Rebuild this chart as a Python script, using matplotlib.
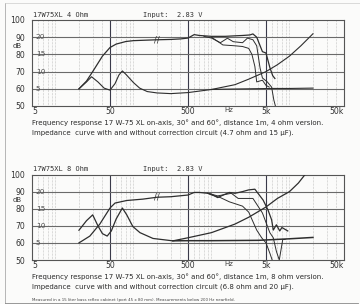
import matplotlib
matplotlib.use("Agg")
import matplotlib.pyplot as plt

# ---------------- 4 ohm version ----------------
f_on4 = [20, 25, 30, 40, 50, 60, 80, 100, 150, 200, 300, 400, 500, 600, 700,
         1000, 1500, 2000, 2500, 3100, 3400, 3800, 4500, 5000, 5600, 6100, 6500]
spl_on4 = [60, 64.5, 70, 79, 84, 86, 87.5, 88, 88.3, 88.5, 88.7, 89, 89.5, 91.5, 91,
           90.5, 90.5, 90.8, 91, 91.3, 91.9, 90, 81.6, 80.8, 72.4, 67.6, 66]
f_30_4 = [800, 1000, 1300, 1600, 1900, 2500, 2900, 3400, 3800, 4200, 4500, 5200, 5900, 6300, 6600]
spl_30_4 = [90.5, 89.5, 86.8, 89.4, 87.4, 86.8, 89.5, 88.5, 85, 72, 66.3, 64, 61, 53.5, 50]
f_60_4 = [1000, 1400, 2000, 2500, 3000, 3300, 3600, 3800, 4500, 5000, 5500]
spl_60_4 = [90, 85.5, 85, 84.6, 83.5, 80, 73, 64, 65, 62, 61]

f_z4 = [20, 25, 29, 35, 42, 50, 58, 65, 72, 80, 100, 120, 150, 200, 300, 500,
        1000, 2000, 3000, 5000, 7000, 10000, 14000, 20000]
z_4 = [5, 7, 8.5, 7, 5.2, 4.6, 6.5, 9, 10.2, 9.2, 6.8, 5.2, 4.2, 3.8, 3.6, 3.9,
       4.8, 6.2, 7.8, 10, 12, 14.5, 17.5, 21]
f_zc4 = [1000, 1500, 3000, 6000, 10000, 20000]
zc_4 = [4.8, 4.9, 5.0, 5.1, 5.1, 5.2]

# ---------------- 8 ohm version ----------------
f_on8 = [20, 27.6, 37, 50, 58, 82, 132, 200, 300, 500, 600, 700, 900, 1000, 1200,
         1500, 1700, 2000, 2500, 3000, 3600, 4600, 5300, 5900, 6200, 6800, 7500, 8000, 9500]
spl_on8 = [60, 64, 71, 80.4, 83.3, 84.8, 85.6, 86.7, 87, 88, 89.5, 89.5, 89, 88.5, 86.5,
           88.5, 89.5, 89, 90, 91, 91.4, 85, 79.3, 73.5, 67.5, 70.6, 67, 69, 67]
f_30_8 = [900, 1200, 1800, 2200, 3400, 4500, 5600, 6200, 6800, 7400, 8200, 8800]
spl_30_8 = [89, 87.5, 89, 86, 86, 77.5, 66, 63, 55, 50, 62, 62]
f_60_8 = [900, 1000, 1300, 1700, 2500, 3000, 3800, 4400, 5000, 5600, 6000]
spl_60_8 = [89, 88, 86.5, 84, 81.5, 78, 67.5, 63, 60, 54, 50]

f_z8 = [20, 25, 30, 35, 40, 46, 52, 60, 72, 82, 98, 121, 178, 320, 500,
        1000, 2000, 3000, 5000, 7000, 10000, 13000, 16500]
z_8 = [8.7, 11.5, 13.2, 10, 7.7, 7, 8.5, 12, 15.2, 13.2, 9.8, 8, 6.3, 5.6, 6.5,
       8, 10.5, 12.5, 15.5, 18, 20, 22.5, 25.5]
f_zc8 = [320, 500, 1000, 2000, 4000, 10000, 20000]
zc_8 = [5.6, 5.65, 5.65, 5.7, 5.75, 6.2, 6.6]

titles = ["17W75XL 4 Ohm", "17W75XL 8 Ohm"]
captions = [
    ["Frequency response 17 W-75 XL on-axis, 30\u00b0 and 60\u00b0, distance 1m, 4 ohm version.",
     "Impedance  curve with and without correction circuit (4.7 ohm and 15 \u00b5F)."],
    ["Frequency response 17 W-75 XL on-axis, 30\u00b0 and 60\u00b0, distance 1m, 8 ohm version.",
     "Impedance  curve with and without correction circuit (6.8 ohm and 20 \u00b5F)."],
]
footer = ("Measured in a 15 liter bass reflex cabinet (port 45 x 80 mm). "
          "Measurements below 200 Hz nearfield.")

W, H = 360, 304
fig = plt.figure(figsize=(W / 100, H / 100), dpi=100, facecolor="#fbfbfa")


def px_box(left, top, right, bottom):
    return [left / W, 1 - bottom / H, (right - left) / W, (bottom - top) / H]


def draw_chart(ax, title, spl_sets, z_sets):
    ax.set_facecolor("#fbfbfa")
    ax.set_xscale("log")
    ax.set_xlim(5, 50000)
    ax.set_ylim(50, 100)

    # dotted minor grid
    for dec in [1, 10, 100, 1000, 10000]:
        for k in range(1, 10):
            f = k * dec
            if 5 < f < 50000 and f not in (50, 500, 5000):
                ax.axvline(f, color="#8f8f8f", lw=0.5, ls=(0, (0.6, 1.5)), zorder=1)
    for f in (50, 500, 5000):
        ax.axvline(f, color="#3a3a4a", lw=0.8, zorder=2)
    for y in (60, 70, 80, 90):
        ax.axhline(y, color="#6a6a6a", lw=0.8, zorder=2)

    for f, s, lw in spl_sets:
        ax.plot(f, s, color="#2e2e2e", lw=lw, zorder=3)

    ax.set_yticks([50, 60, 70, 80, 90, 100])
    ax.set_yticklabels(["50", "60", "70", "80", "90", "100"])
    ax.set_xticks([5, 50, 500, 5000, 50000])
    ax.set_xticklabels(["5", "50", "500", "5k", "50k"])
    ax.minorticks_off()
    ax.tick_params(axis="both", length=0, labelsize=5.6, colors="#333333", pad=1)
    ax.tick_params(axis="y", pad=5)
    xl = ax.get_xticklabels()
    xl[0].set_ha("left")
    xl[-1].set_ha("right")
    for sp in ax.spines.values():
        sp.set_color("#555555")
        sp.set_linewidth(0.8)

    ax.text(1450, 49.2, "Hz", fontsize=5, color="#444444", va="top")
    ax.text(0.003, 1.025, title, transform=ax.transAxes, family="DejaVu Sans Mono",
            fontsize=5, color="#333333", va="bottom")
    ax.text(0.355, 1.025, "Input:  2.83 V", transform=ax.transAxes,
            family="DejaVu Sans Mono", fontsize=5, color="#333333", va="bottom")
    ax.text(-0.032, 0.7, "dB", transform=ax.transAxes, fontsize=5, color="#333333",
            ha="right", va="center")

    # impedance on its own ohm scale (0..25 ohm over the 50..100 dB range)
    az = ax.twinx()
    az.set_ylim(0, 25)
    az.set_yticks([])
    for sp in az.spines.values():
        sp.set_visible(False)
    for f, z, lw in z_sets:
        az.plot(f, z, color="#2e2e2e", lw=lw, zorder=3)
    for z in (5, 10, 15, 20):
        az.text(5.6, z, str(z), fontsize=5.4, color="#555555", va="center", ha="left")
    return az


ax1 = fig.add_axes(px_box(32, 20, 344, 106))
az1 = draw_chart(ax1, titles[0],
                 [(f_on4, spl_on4, 0.9), (f_30_4, spl_30_4, 0.7), (f_60_4, spl_60_4, 0.7)],
                 [(f_z4, z_4, 0.8), (f_zc4, zc_4, 0.8)])
ax1.text(200, 88.6, "//", fontsize=6, color="#333333", ha="center", va="center")

ax2 = fig.add_axes(px_box(32, 174.5, 344, 260))
az2 = draw_chart(ax2, titles[1],
                 [(f_on8, spl_on8, 0.9), (f_30_8, spl_30_8, 0.7), (f_60_8, spl_60_8, 0.7)],
                 [(f_z8, z_8, 0.9), (f_zc8, zc_8, 1.1)])
ax2.text(200, 86.8, "//", fontsize=6, color="#333333", ha="center", va="center")

for (l1, l2), y1 in zip(captions, (123, 276.7)):
    fig.text(32 / W, 1 - y1 / H, l1, fontsize=5.05, color="#2a2a2a", va="center")
    fig.text(32 / W, 1 - (y1 + 10) / H, l2, fontsize=5.05, color="#2a2a2a", va="center")
fig.text(32 / W, 1 - 300 / H, footer, fontsize=2.85, color="#444444", va="center")

# page edges of the scan
fig.add_artist(plt.Line2D([5 / W, 5 / W], [0, 1 - 3 / H], color="#aaaaaa", lw=0.6))
fig.add_artist(plt.Line2D([5 / W, 1], [1 - 3 / H, 1 - 3 / H], color="#cccccc", lw=0.5))
fig.add_artist(plt.Line2D([5 / W, 358 / W], [1 - 302.5 / H, 1 - 302.5 / H], color="#888888", lw=0.6))

fig.savefig("out.png", dpi=100, facecolor=fig.get_facecolor())
